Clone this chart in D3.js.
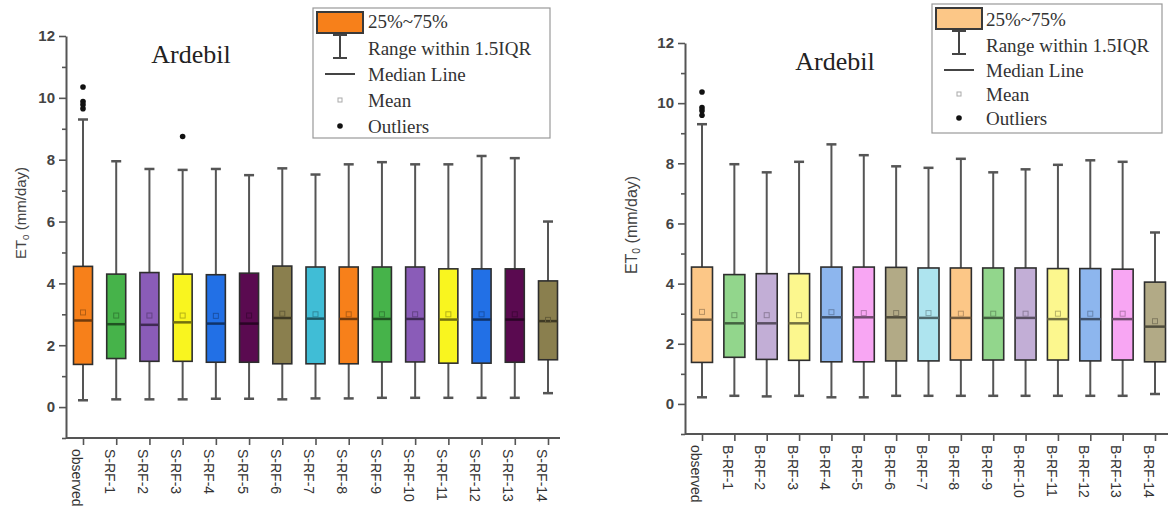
<!DOCTYPE html>
<html lang="en">
    <head>
        <meta charset="utf-8">
        <title>Ardebil ETo box plots</title>
        <script src="https://d3js.org/d3.v7.min.js"></script>
        <style type="text/css">
            body { margin: 0; background: white; }
            svg { display: block; }
            .tick text { font-family: "Liberation Sans", Arial, sans-serif; }
        </style>
    </head>
    <body>
        <svg width="1168" height="512"></svg>
        <script type="text/javascript">

            // ---- data ----
            const leftCats = ["observed","S-RF-1","S-RF-2","S-RF-3","S-RF-4","S-RF-5","S-RF-6","S-RF-7",
                              "S-RF-8","S-RF-9","S-RF-10","S-RF-11","S-RF-12","S-RF-13","S-RF-14"];
            const leftLow  = [0.22,0.25,0.25,0.25,0.27,0.27,0.25,0.28,0.28,0.3,0.3,0.3,0.3,0.3,0.45];
            const leftQ1   = [1.38,1.57,1.48,1.48,1.45,1.45,1.4,1.4,1.4,1.46,1.46,1.42,1.42,1.45,1.53];
            const leftMed  = [2.8,2.68,2.66,2.74,2.7,2.7,2.88,2.86,2.85,2.85,2.85,2.83,2.83,2.83,2.78];
            const leftMean = [3.06,2.96,2.96,2.96,2.95,2.96,3.02,3.0,3.0,3.0,3.0,3.0,3.0,3.0,2.82];
            const leftQ3   = [4.55,4.3,4.35,4.3,4.28,4.33,4.56,4.53,4.53,4.53,4.53,4.47,4.47,4.47,4.08];
            const leftHigh = [9.3,7.95,7.7,7.67,7.7,7.5,7.72,7.52,7.85,7.92,7.85,7.85,8.12,8.05,6.0];
            const leftOutliers = [
                {cat: "observed", value: 10.35}, {cat: "observed", value: 9.88},
                {cat: "observed", value: 9.78}, {cat: "observed", value: 9.65},
                {cat: "S-RF-3", value: 8.75}
            ];

            const rightCats = ["observed","B-RF-1","B-RF-2","B-RF-3","B-RF-4","B-RF-5","B-RF-6","B-RF-7",
                               "B-RF-8","B-RF-9","B-RF-10","B-RF-11","B-RF-12","B-RF-13","B-RF-14"];
            const rightLow  = [0.22,0.27,0.25,0.27,0.22,0.22,0.27,0.27,0.27,0.27,0.27,0.27,0.27,0.27,0.33];
            const rightQ1   = [1.38,1.55,1.48,1.45,1.4,1.4,1.43,1.43,1.46,1.46,1.46,1.46,1.43,1.46,1.4];
            const rightMed  = [2.8,2.68,2.68,2.68,2.88,2.88,2.88,2.86,2.86,2.86,2.86,2.82,2.82,2.82,2.57];
            const rightMean = [3.06,2.95,2.95,2.95,3.05,3.02,3.02,3.02,3.0,3.0,3.0,3.0,3.0,3.0,2.75];
            const rightQ3   = [4.55,4.3,4.33,4.33,4.55,4.55,4.54,4.52,4.52,4.52,4.52,4.5,4.5,4.48,4.05];
            const rightHigh = [9.3,7.97,7.7,8.05,8.63,8.27,7.9,7.85,8.15,7.7,7.8,7.95,8.1,8.05,5.7];
            const rightOutliers = [
                {cat: "observed", value: 10.37}, {cat: "observed", value: 9.85},
                {cat: "observed", value: 9.75}, {cat: "observed", value: 9.6}
            ];

            const yTicks = [0, 2, 4, 6, 8, 10, 12];
            const yMinor = [-1, 1, 3, 5, 7, 9, 11];
            const legendLabels = ["25%~75%", "Range within 1.5IQR", "Median Line", "Mean", "Outliers"];

            const leftColors  = ["#f7801a","#46b34a","#8a5cb8","#f9f51f","#2270e6","#5a0a50","#8a7f4e","#40bdd6"];
            const rightColors = ["#fcc787","#92d68c","#c2aed6","#fcf78e","#8db6ee","#f8a6f3","#b2aa86","#aee4ef"];

            const svg = d3.select("svg");

            function drawPanel(p) {
                const g = svg.append("g");
                const y = d3.scaleLinear().domain([-1, 12]).range([p.yBottom, p.yTop]);
                const x = d3.scalePoint().domain(p.cats).range([p.xFirst, p.xLast]);
                const color = (i) => p.colors[i % p.colors.length];

                const rows = p.cats.map((c, i) => ({
                    cat: c, i: i, low: p.low[i], q1: p.q1[i], med: p.med[i],
                    mean: p.mean[i], q3: p.q3[i], high: p.high[i]
                }));

                // y axis
                const yAxis = d3.axisLeft(y).tickValues(yTicks).tickSize(7).tickPadding(4).tickSizeOuter(0);
                const ya = g.append("g").attr("transform", `translate(${p.axisX},0)`).call(yAxis);
                ya.select(".domain").attr("stroke", "#555").attr("stroke-width", 2);
                ya.selectAll(".tick line").attr("stroke", "#555").attr("stroke-width", 1.6);
                ya.selectAll(".tick text").attr("font-size", 15).attr("fill", "#444").attr("font-weight", "bold");
                g.append("g").attr("transform", `translate(${p.axisX},0)`)
                    .call(d3.axisLeft(y).tickValues(yMinor).tickSize(4).tickFormat(""))
                    .call(a => a.select(".domain").remove())
                    .selectAll("line").attr("stroke", "#555").attr("stroke-width", 1.6);

                // x axis
                g.append("line")
                    .attr("x1", p.axisX).attr("x2", p.axisEnd)
                    .attr("y1", y(-1)).attr("y2", y(-1))
                    .attr("stroke", "#555").attr("stroke-width", 2);
                const xa = g.append("g").attr("transform", `translate(0,${y(-1)})`)
                    .call(d3.axisBottom(x).tickSize(7).tickPadding(0));
                xa.select(".domain").remove();
                xa.selectAll(".tick line").attr("stroke", "#555").attr("stroke-width", 1.6);
                xa.selectAll(".tick text")
                    .attr("font-family", p.xFont)
                    .attr("font-size", 14)
                    .attr("fill", "#333")
                    .attr("text-anchor", "start")
                    .attr("dy", "0.35em")
                    .attr("transform", "translate(0,11) rotate(90)");

                // whiskers
                const half = p.boxW / 2;
                const box = g.selectAll(".box").data(rows).enter().append("g").attr("class", "box");
                box.append("line")
                    .attr("x1", d => x(d.cat)).attr("x2", d => x(d.cat))
                    .attr("y1", d => y(d.low)).attr("y2", d => y(d.high))
                    .attr("stroke", "#555").attr("stroke-width", 2);
                box.append("line")
                    .attr("x1", d => x(d.cat) - 5).attr("x2", d => x(d.cat) + 5)
                    .attr("y1", d => y(d.low)).attr("y2", d => y(d.low))
                    .attr("stroke", "#555").attr("stroke-width", 2.5);
                box.append("line")
                    .attr("x1", d => x(d.cat) - 5).attr("x2", d => x(d.cat) + 5)
                    .attr("y1", d => y(d.high)).attr("y2", d => y(d.high))
                    .attr("stroke", "#555").attr("stroke-width", 2.5);
                // boxes
                box.append("rect")
                    .attr("x", d => x(d.cat) - half).attr("width", p.boxW)
                    .attr("y", d => y(d.q3)).attr("height", d => y(d.q1) - y(d.q3))
                    .attr("fill", d => color(d.i))
                    .attr("stroke", "#2e2e2e").attr("stroke-width", 1.6);
                // median
                box.append("line")
                    .attr("x1", d => x(d.cat) - half).attr("x2", d => x(d.cat) + half)
                    .attr("y1", d => y(d.med)).attr("y2", d => y(d.med))
                    .attr("stroke", d => d3.color(color(d.i)).darker(2.2))
                    .attr("stroke-width", 2.5);
                // mean
                box.append("rect")
                    .attr("x", d => x(d.cat) - 2.5).attr("y", d => y(d.mean) - 2.5)
                    .attr("width", 5).attr("height", 5)
                    .attr("fill", "none")
                    .attr("stroke", d => d3.color(color(d.i)).darker(0.9))
                    .attr("stroke-width", 1);
                // outliers
                g.selectAll(".out").data(p.outliers).enter().append("circle")
                    .attr("class", "out")
                    .attr("cx", d => x(d.cat)).attr("cy", d => y(d.value))
                    .attr("r", 2.8).attr("fill", "#111");

                // titles
                g.append("text")
                    .attr("x", p.titleX).attr("y", p.titleY)
                    .attr("text-anchor", "middle")
                    .attr("font-family", "Liberation Serif, Times New Roman, serif")
                    .attr("font-size", 26).attr("fill", "#222")
                    .text("Ardebil");
                const yt = g.append("text")
                    .attr("transform", `translate(${p.yTitleX},${p.yTitleY}) rotate(-90)`)
                    .attr("text-anchor", "middle")
                    .attr("font-family", p.yTitleFont)
                    .attr("font-size", p.yTitleSize).attr("fill", "#444");
                yt.append("tspan").text("ET");
                yt.append("tspan").attr("font-size", p.yTitleSize * 0.65).attr("dy", 3).text("0");
                yt.append("tspan").attr("dy", -3).text(" (mm/day)");

                // legend
                const L = p.legend;
                const lg = g.append("g");
                lg.append("rect")
                    .attr("x", L.x).attr("y", L.y).attr("width", L.w).attr("height", L.h)
                    .attr("fill", "white").attr("stroke", "#999").attr("stroke-width", 1.2);
                const ix = L.x + 27;
                lg.append("rect")
                    .attr("x", L.x + 4).attr("y", L.y + 4).attr("width", 46).attr("height", 21)
                    .attr("fill", p.colors[0]).attr("stroke", "#3a3a3a").attr("stroke-width", 2);
                lg.append("line").attr("x1", ix).attr("x2", ix)
                    .attr("y1", L.y + 26).attr("y2", L.y + 50).attr("stroke", "#444").attr("stroke-width", 2);
                lg.append("line").attr("x1", ix - 7).attr("x2", ix + 7)
                    .attr("y1", L.y + 27).attr("y2", L.y + 27).attr("stroke", "#444").attr("stroke-width", 2);
                lg.append("line").attr("x1", ix - 7).attr("x2", ix + 7)
                    .attr("y1", L.y + 50).attr("y2", L.y + 50).attr("stroke", "#444").attr("stroke-width", 2);
                lg.append("line").attr("x1", ix - 15).attr("x2", ix + 15)
                    .attr("y1", L.y + L.rows[2]).attr("y2", L.y + L.rows[2])
                    .attr("stroke", "#444").attr("stroke-width", 2);
                lg.append("rect").attr("x", ix - 2).attr("y", L.y + L.rows[3] - 2)
                    .attr("width", 4).attr("height", 4).attr("fill", "none")
                    .attr("stroke", "#aaa").attr("stroke-width", 1);
                lg.append("circle").attr("cx", ix).attr("cy", L.y + L.rows[4]).attr("r", 2.8).attr("fill", "#111");
                lg.selectAll(".lt").data(legendLabels).enter().append("text")
                    .attr("class", "lt")
                    .attr("x", L.textX).attr("y", (d, i) => L.y + L.rows[i])
                    .attr("dy", "0.35em")
                    .attr("font-family", "Liberation Serif, Times New Roman, serif")
                    .attr("font-size", 19).attr("fill", "#333")
                    .text(d => d);
            }

            drawPanel({
                cats: leftCats, low: leftLow, q1: leftQ1, med: leftMed, mean: leftMean,
                q3: leftQ3, high: leftHigh, outliers: leftOutliers, colors: leftColors,
                yTop: 36, yBottom: 438, xFirst: 83, xLast: 548, axisX: 66, axisEnd: 560, boxW: 19,
                xFont: "Liberation Sans, Arial, sans-serif",
                titleX: 191, titleY: 63,
                yTitleX: 26, yTitleY: 213, yTitleSize: 15, yTitleFont: "Liberation Sans, Arial, sans-serif",
                legend: {x: 313, y: 8, w: 237, h: 130, textX: 368, rows: [13, 40, 66, 92, 118]}
            });

            drawPanel({
                cats: rightCats, low: rightLow, q1: rightQ1, med: rightMed, mean: rightMean,
                q3: rightQ3, high: rightHigh, outliers: rightOutliers, colors: rightColors,
                yTop: 43, yBottom: 434, xFirst: 702, xLast: 1155, axisX: 685, axisEnd: 1168, boxW: 21,
                xFont: "Liberation Serif, Times New Roman, serif",
                titleX: 835, titleY: 70,
                yTitleX: 637, yTitleY: 225, yTitleSize: 16, yTitleFont: "Liberation Sans, Arial, sans-serif",
                legend: {x: 932, y: 4, w: 230, h: 129, textX: 986, rows: [15, 41, 66, 90, 114]}
            });

        </script>
    </body>
</html>
